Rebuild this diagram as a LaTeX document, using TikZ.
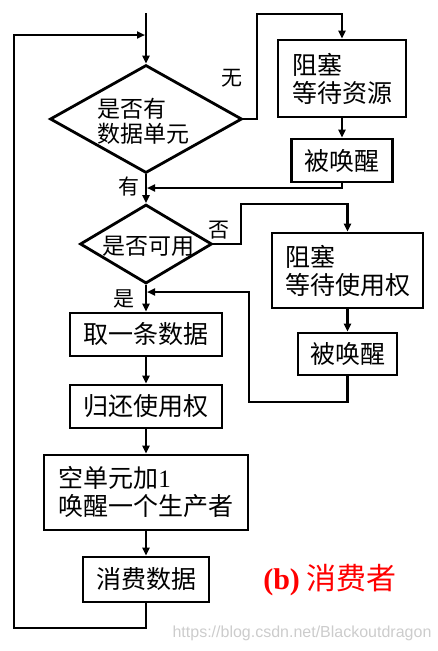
\documentclass[tikz,border=0pt]{standalone}
\usepackage{fontspec}
\setmainfont{Noto Sans CJK SC}
\newfontfamily\tnr{Liberation Serif}
\newfontfamily\wmfont{Liberation Sans}
\usetikzlibrary{shapes.geometric,arrows.meta}
\begin{document}
\begin{tikzpicture}[x=1pt,y=-1pt,
  box/.style={draw,line width=2.8pt,inner sep=0pt,align=left,font=\fontsize{25}{28}\selectfont},
  dia/.style={draw,diamond,line width=2.8pt,inner sep=0pt},
  dtext/.style={align=left,font=\fontsize{23}{25}\selectfont,inner sep=0pt},
  lab/.style={font=\fontsize{21}{21}\selectfont,inner sep=0pt},
  conn/.style={line width=2.4pt},
  arr/.style={conn,-{Triangle[length=8pt,width=7pt]}}]
\useasboundingbox (0,0) rectangle (438,651);
% nodes
\node[dia,minimum width=192pt,minimum height=108pt] (d1) at (146,119) {};
\node[dtext] (d1t) at ([xshift=-3pt,yshift=-2pt]d1.center) {是否有\\数据单元};
\node[dia,minimum width=132pt,minimum height=79pt] (d2) at (146,244) {};
\node[dtext] (d2t) at ([xshift=2pt,yshift=-2pt]d2.center) {是否可用};
\node[box,minimum width=128pt,minimum height=77pt] (b1) at (342,78.5) {阻塞\\等待资源};
\node[box,minimum width=101pt,minimum height=43pt] (b2) at (342,160.5) {被唤醒};
\node[box,minimum width=151pt,minimum height=75pt] (b3) at (347.5,270.5) {阻塞\\等待使用权};
\node[box,minimum width=99pt,minimum height=42pt] (b4) at (347.5,354) {被唤醒};
\node[box,minimum width=152pt,minimum height=43pt] (b5) at (146,334.5) {取一条数据};
\node[box,minimum width=152pt,minimum height=43pt] (b6) at (146,406.5) {归还使用权};
\node[box,minimum width=204pt,minimum height=75pt] (b7) at (146,492.5) {空单元加{\tnr 1}\\唤醒一个生产者};
\node[box,minimum width=126pt,minimum height=45pt] (b8) at (146,579.5) {消费数据};
% labels
\node[lab] (lwu) at (232,78) {无};
\node[lab] (lyou) at (129,187) {有};
\node[lab] (lfou) at (219,230) {否};
\node[lab] (lshi) at (124,299) {是};
\node[red,inner sep=0pt,font=\fontsize{30}{30}\selectfont] (cap) at (330,580) {{\tnr\bfseries (b)} 消费者};
\node[gray!40,inner sep=0pt,font=\wmfont\fontsize{16}{16}\selectfont] (wm) at (302,633) {https://blog.csdn.net/Blackoutdragon};
% coordinates
\coordinate (top) at (146,13);
\coordinate (lb) at (14,628);
\coordinate (lt) at (14,35);
\coordinate (lin) at (145,35);
\coordinate (r1a) at (257,119);
\coordinate (r1b) at (257,14);
\coordinate (j1) at (147,188);
\coordinate (r2a) at (241,244);
\coordinate (r2b) at (241,204);
\coordinate (r4a) at (249,402);
\coordinate (r4b) at (249,292);
\coordinate (j2) at (147,292);
% connectors
\draw[arr] (top) -- (d1.north);
\draw[arr] (b8.south) |- (lb) -- (lt) -- (lin);
\draw[arr] (d1.east) -- (r1a) -- (r1b) -| (b1.north);
\draw[arr] (b1.south) -- (b2.north);
\draw[arr] (b2.south) |- (j1);
\draw[arr] (d1.south) -- (d2.north);
\draw[arr] (d2.east) -- (r2a) -- (r2b) -| (b3.north);
\draw[arr] (b3.south) -- (b4.north);
\draw[arr] (b4.south) |- (r4a) -- (r4b) -- (j2);
\draw[arr] (d2.south) -- (b5.north);
\draw[arr] (b5.south) -- (b6.north);
\draw[arr] (b6.south) -- (b7.north);
\draw[arr] (b7.south) -- (b8.north);
\end{tikzpicture}
\end{document}
